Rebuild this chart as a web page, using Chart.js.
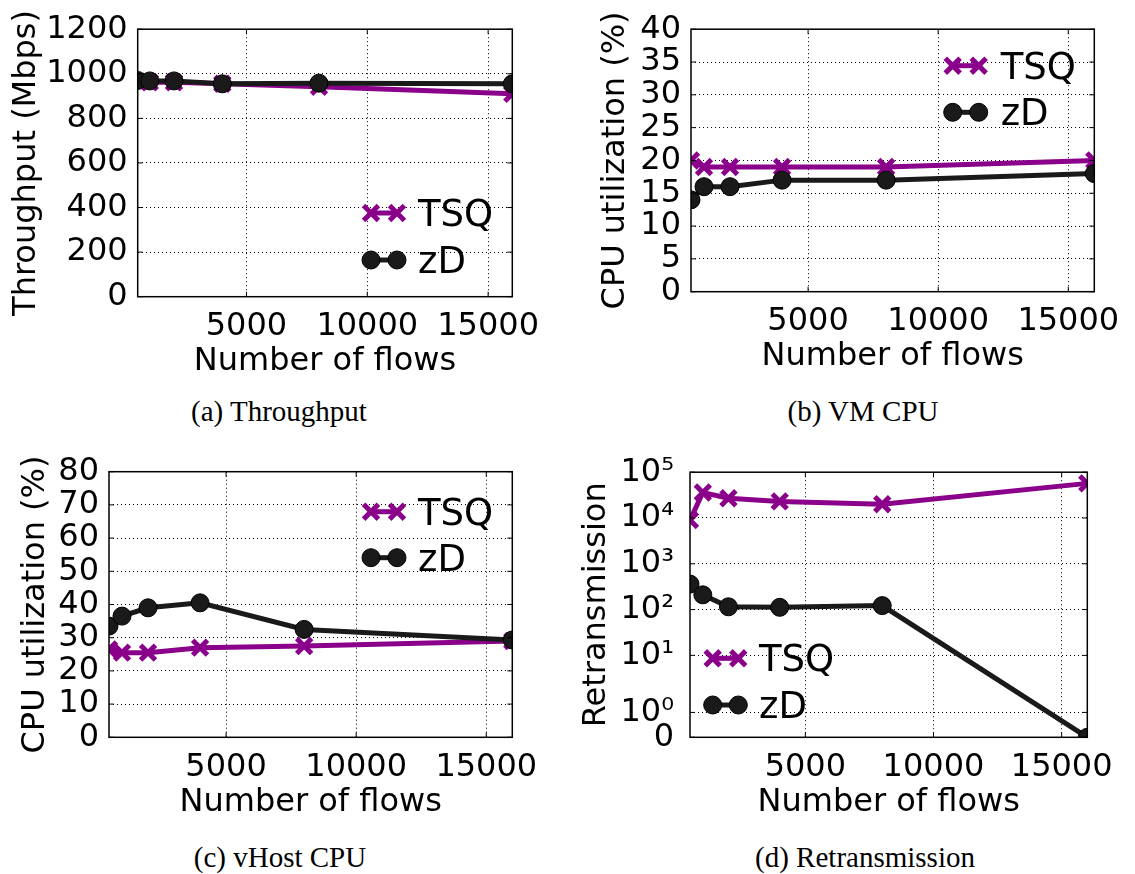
<!DOCTYPE html>
<html><head><meta charset="utf-8">
<script src="https://cdn.jsdelivr.net/npm/chart.js@4.4.0/dist/chart.umd.min.js"></script>
<style>
html,body{margin:0;padding:0;background:#fff;}
#wrap{position:relative;width:1135px;height:874px;overflow:hidden;background:#fff;}
canvas{position:absolute;}
.cap{position:absolute;font-family:'Liberation Serif',serif;font-size:29px;line-height:30px;color:#000;transform:translateX(-50%);white-space:nowrap;}
</style></head><body>
<div id="wrap">
  <canvas id="ca" width="567" height="385" style="left:0;top:0"></canvas>
  <canvas id="cb" width="568" height="385" style="left:567px;top:0"></canvas>
  <canvas id="cc" width="567" height="395" style="left:0;top:437px"></canvas>
  <canvas id="cd" width="568" height="395" style="left:567px;top:437px"></canvas>
  <div class="cap" style="left:279px;top:396px">(a) Throughput</div>
  <div class="cap" style="left:863px;top:396px">(b) VM CPU</div>
  <div class="cap" style="left:280px;top:842px">(c) vHost CPU</div>
  <div class="cap" style="left:865px;top:842px">(d) Retransmission</div>
</div>
<script>
// ---------- data ----------
const seriesNames = ['TSQ', 'zD'];
const flows = [500, 1000, 2000, 4000, 8000, 16000];
const xTickValues = [5000, 10000, 15000];

const tputTSQ = [965, 962, 962, 955, 942, 910];
const tputZD  = [970, 968, 968, 955, 958, 955];
const tputTicks = [0, 200, 400, 600, 800, 1000, 1200];

const vmTSQ = [20, 19, 19, 19, 19, 20];
const vmZD  = [14, 16, 16, 17, 17, 18];
const vmTicks = [0, 5, 10, 15, 20, 25, 30, 35, 40];

const vhTSQ = [26.5, 25.5, 25.5, 27, 27.5, 29];
const vhZD  = [33.5, 36.5, 39, 40.5, 32.5, 29.3];
const vhTicks = [0, 10, 20, 30, 40, 50, 60, 70, 80];

const rtTSQ = [9000, 36000, 27000, 23000, 20000, 57000];
const rtZD  = [360, 210, 115, 112, 122, 0];
const rtTicks = [0, 1, 10, 100, 1000, 10000, 100000];
const rtTickLabels = ['0', '10\u2070', '10\u00B9', '10\u00B2', '10\u00B3', '10\u2074', '10\u2075'];

// ---------- styles ----------
const PURPLE = '#8b008b';
const BLACK = '#1a1a1a';
const FS = 32;
Chart.defaults.font.family = "'DejaVu Sans', sans-serif";
Chart.defaults.color = '#000';

// symmetric-log style scale (linear 0..1, stretched decade 1..10, then log)
const SYM_A = 0.5435, SYM_B = 1.2457;
function symT(v){ v = Math.max(0, v); if (v <= 1) return v*SYM_A; if (v <= 10) return SYM_A + SYM_B*Math.log10(v); return SYM_A + SYM_B + Math.log10(v/10); }
function symInv(u){ if (u <= SYM_A) return u/SYM_A; if (u <= SYM_A+SYM_B) return Math.pow(10,(u-SYM_A)/SYM_B); return 10*Math.pow(10, u-SYM_A-SYM_B); }
class SymLogScale extends Chart.LinearScale {
  getPixelForValue(v){ const s = symT(this.min), e = symT(this.max); return this.getPixelForDecimal((symT(v)-s)/(e-s)); }
  getValueForPixel(p){ const s = symT(this.min), e = symT(this.max); return symInv(s + this.getDecimalForPixel(p)*(e-s)); }
}
SymLogScale.id = 'symlog';
SymLogScale.defaults = Chart.LinearScale.defaults;
Chart.register(SymLogScale);

const framePlugin = {
  id: 'frame',
  afterDatasetsDraw(chart){
    const {ctx, chartArea:{left,right,top,bottom}} = chart;
    const xs = chart.scales.x, ys = chart.scales.y;
    ctx.save();
    ctx.strokeStyle = '#000';
    ctx.lineWidth = 1;
    ctx.beginPath();
    xs.ticks.forEach(t => { const p = xs.getPixelForValue(t.value); ctx.moveTo(p, bottom); ctx.lineTo(p, bottom-5); ctx.moveTo(p, top); ctx.lineTo(p, top+5); });
    ys.ticks.forEach(t => { const p = ys.getPixelForValue(t.value); ctx.moveTo(left, p); ctx.lineTo(left+5, p); ctx.moveTo(right, p); ctx.lineTo(right-5, p); });
    ctx.stroke();
    ctx.lineWidth = 1.5;
    ctx.strokeRect(left, top, right-left, bottom-top);
    ctx.restore();
  }
};

const legendPlugin = {
  id: 'inlegend',
  afterDraw(chart){
    const o = chart.options.plugins.inlegend;
    if (!o) return;
    const ctx = chart.ctx;
    const dsets = chart.data.datasets;
    dsets.forEach((d, i) => {
      const y = o.ys[i];
      ctx.save();
      ctx.strokeStyle = d.borderColor;
      ctx.lineWidth = d.borderWidth;
      ctx.beginPath(); ctx.moveTo(o.x1, y); ctx.lineTo(o.x2, y); ctx.stroke();
      ctx.fillStyle = d.pointBackgroundColor || d.borderColor;
      ctx.strokeStyle = d.pointBorderColor || d.borderColor;
      ctx.lineWidth = d.pointBorderWidth;
      [o.x1, o.x2].forEach(x => Chart.helpers.drawPoint(ctx, {pointStyle: d.pointStyle, radius: d.pointRadius, borderWidth: d.pointBorderWidth, rotation: 0}, x, y));
      ctx.fillStyle = '#000';
      ctx.font = "37px 'DejaVu Sans'";
      ctx.textBaseline = 'alphabetic';
      ctx.textAlign = 'left';
      ctx.fillText(d.label, o.tx, y + 13);
      ctx.restore();
    });
  }
};

function mkData(tsq, zd){
  return {datasets: [
    {label: seriesNames[0], data: flows.map((x,i)=>({x, y: tsq[i]})), order: 1, clip: 0,
     borderColor: PURPLE, backgroundColor: PURPLE, borderWidth: 5,
     pointStyle: 'crossRot', pointRadius: 10.5, pointBorderWidth: 5,
     pointBorderColor: PURPLE, pointBackgroundColor: PURPLE, pointHoverRadius: 10.5},
    {label: seriesNames[1], data: flows.map((x,i)=>({x, y: zd[i]})), order: 0, clip: 0,
     borderColor: BLACK, backgroundColor: BLACK, borderWidth: 5,
     pointStyle: 'circle', pointRadius: 9, pointBorderWidth: 1,
     pointBorderColor: '#000', pointBackgroundColor: BLACK, pointHoverRadius: 9}
  ]};
}

function mkChart(id, cfg){
  const gridCommon = {color: '#000', lineWidth: 1, drawTicks: false};
  const borderCommon = {display: false, dash: [1, 3]};
  return new Chart(document.getElementById(id), {
    type: 'line',
    data: mkData(cfg.tsq, cfg.zd),
    plugins: [framePlugin, legendPlugin],
    options: {
      responsive: false, animation: false, events: [],
      layout: {padding: {left: 0, top: cfg.padTop, right: cfg.padRight, bottom: 0}},
      plugins: {legend: {display: false}, tooltip: {enabled: false}, inlegend: cfg.legend},
      scales: {
        x: {type: 'linear', min: 500, max: 16000,
            afterBuildTicks: s => { s.ticks = xTickValues.map(v => ({value: v})); },
            afterFit: s => { s.height = cfg.xH; },
            grid: gridCommon, border: borderCommon,
            ticks: {font: {size: FS}, color: '#000', padding: 11, maxRotation: 0, autoSkip: false, callback: v => String(v)},
            title: {display: true, text: 'Number of flows', font: {size: FS}, color: '#000', padding: {top: 0, bottom: cfg.xTitlePad}}},
        y: {type: cfg.yType || 'linear', min: cfg.yTicks[0], max: cfg.yTicks[cfg.yTicks.length-1],
            afterBuildTicks: s => { s.ticks = cfg.yTicks.map(v => ({value: v})); },
            afterFit: s => { s.width = cfg.yW; },
            grid: gridCommon, border: borderCommon,
            ticks: {font: {size: cfg.yTickSize || FS}, color: '#000', padding: cfg.yTickPad || 10, autoSkip: false,
                    callback: cfg.yLabels ? (v => cfg.yLabels[cfg.yTicks.indexOf(v)]) : (v => String(v))},
            title: {display: true, text: cfg.yTitle, font: {size: FS}, color: '#000', padding: {top: cfg.yTitlePad, bottom: 0}}}
      }
    }
  });
}

mkChart('ca', {tsq: tputTSQ, zd: tputZD, yTicks: tputTicks, yTitle: 'Throughput (Mbps)',
  padTop: 25.7, padRight: 54.7, xH: 88.3, xTitlePad: 4, yW: 137.7, yTitlePad: 7,
  legend: {x1: 371, x2: 397, tx: 418, ys: [213, 260]}});
mkChart('cb', {tsq: vmTSQ, zd: vmZD, yTicks: vmTicks, yTitle: 'CPU utilization (%)',
  padTop: 25.7, padRight: 40.7, xH: 93.3, xTitlePad: 9, yW: 124, yTitlePad: 29,
  legend: {x1: 385.7, x2: 411.7, tx: 433.7, ys: [65.7, 112.3]}});
mkChart('cc', {tsq: vhTSQ, zd: vhZD, yTicks: vhTicks, yTitle: 'CPU utilization (%)',
  padTop: 34.7, padRight: 54.7, xH: 94.7, xTitlePad: 10, yW: 109, yTitlePad: 16,
  legend: {x1: 371, x2: 397, tx: 418, ys: [74.7, 120.7]}});
mkChart('cd', {tsq: rtTSQ, zd: rtZD, yTicks: rtTicks, yLabels: rtTickLabels, yType: 'symlog', yTitle: 'Retransmission',
  padTop: 34.7, padRight: 47.7, xH: 94.7, xTitlePad: 10, yW: 123, yTitlePad: 10, yTickPad: 16,
  legend: {x1: 145.7, x2: 171.3, tx: 192, ys: [221.3, 268]}});
</script>
</body></html>
